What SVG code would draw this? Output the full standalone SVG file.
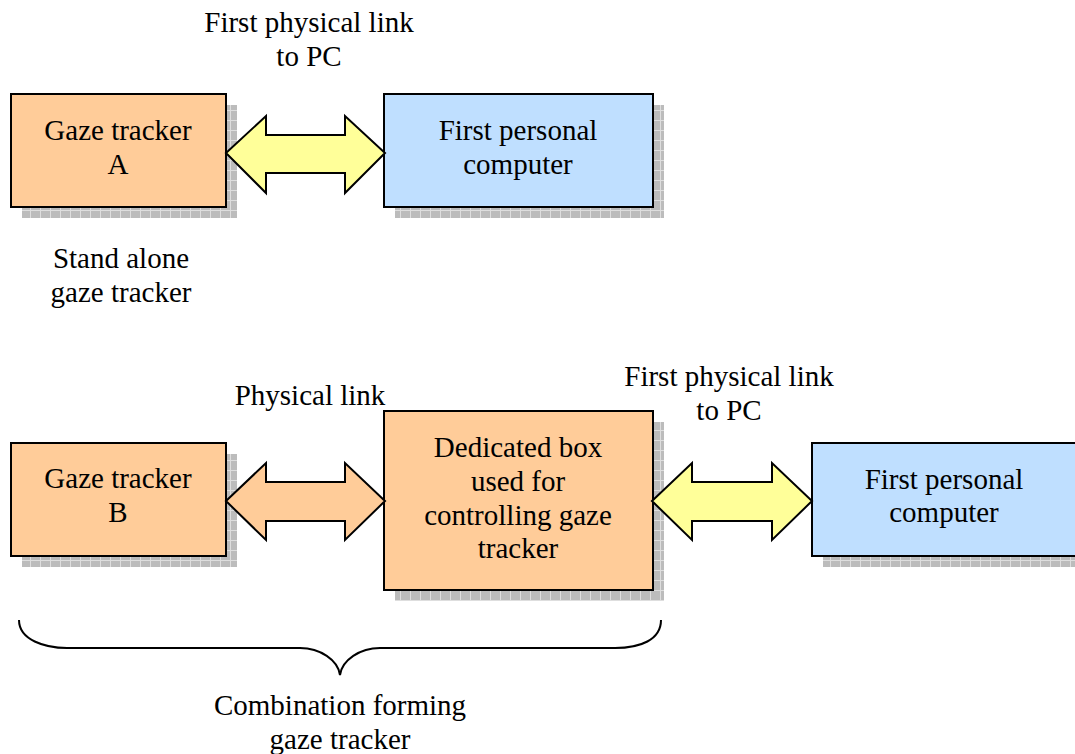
<svg xmlns="http://www.w3.org/2000/svg" width="1075" height="754" viewBox="0 0 1075 754">
<style>
.box{stroke:#000;stroke-width:2}
.orange{fill:#ffcc99}
.blue{fill:#bfdfff}
.shadow{fill:url(#grid)}
.arrow{stroke:#000;stroke-width:2;stroke-linejoin:miter}
.yellow{fill:#ffff99}
text{font-family:'Liberation Serif','Times New Roman',serif;font-size:29px;fill:#000;text-anchor:middle}
.brace{fill:none;stroke:#000;stroke-width:2}
</style>
<defs>
<pattern id="grid" width="10" height="10" patternUnits="userSpaceOnUse">
<rect width="10" height="10" fill="#bcbcbc"/>
<path d="M0,0.5H10M0.5,0V10" stroke="#dedede" stroke-width="1"/>
</pattern>
</defs>
<rect width="1075" height="754" fill="#fff"/>
<g id="gazeA">
<rect class="shadow" x="22" y="105" width="215" height="113"/>
<rect class="box orange" x="11" y="94" width="215" height="113"/>
<text x="118" y="140">Gaze tracker</text>
<text x="118" y="174">A</text>
</g>
<g id="pc1">
<rect class="shadow" x="395" y="105" width="269" height="113"/>
<rect class="box blue" x="384" y="94" width="269" height="113"/>
<text x="518" y="140">First personal</text>
<text x="518" y="174">computer</text>
</g>
<g id="gazeB">
<rect class="shadow" x="22" y="454" width="215" height="113"/>
<rect class="box orange" x="11" y="443" width="215" height="113"/>
<text x="118" y="488">Gaze tracker</text>
<text x="118" y="522">B</text>
</g>
<g id="dedicated">
<rect class="shadow" x="395" y="422" width="269" height="179"/>
<rect class="box orange" x="384" y="411" width="269" height="179"/>
<text x="518" y="457">Dedicated box</text>
<text x="518" y="491">used for</text>
<text x="518" y="525">controlling gaze</text>
<text x="518" y="558">tracker</text>
</g>
<g id="pc2">
<rect class="shadow" x="823" y="454" width="270" height="113"/>
<rect class="box blue" x="812" y="443" width="280" height="113"/>
<text x="944" y="489">First personal</text>
<text x="944" y="522">computer</text>
</g>
<g id="connectors">
<polygon class="arrow yellow" points="226,153 266,116 266,135 345,135 345,116 385,153 345,193 345,173 266,173 266,193"/>
<polygon class="arrow orange" points="226,501 266,463 266,482 345,482 345,463 385,501 345,540 345,521 266,521 266,540"/>
<polygon class="arrow yellow" points="652,501 692,463 692,482 772,482 772,463 812,501 772,540 772,521 692,521 692,540"/>
</g>
<g id="labels">
<text x="309" y="32">First physical link</text>
<text x="309" y="66">to PC</text>
<text x="121" y="268">Stand alone</text>
<text x="121" y="302">gaze tracker</text>
<text x="310" y="405">Physical link</text>
<text x="729" y="386">First physical link</text>
<text x="729" y="420">to PC</text>
<text x="340" y="715">Combination forming</text>
<text x="340" y="749">gaze tracker</text>
</g>
<g id="brace">
<path class="brace" d="M19,620 C19,640 45,648 67,648 L300,648 C320,648 338,660 340,675 C342,660 360,648 380,648 L615,648 C640,648 661,640 661,620"/>
</g>
</svg>
